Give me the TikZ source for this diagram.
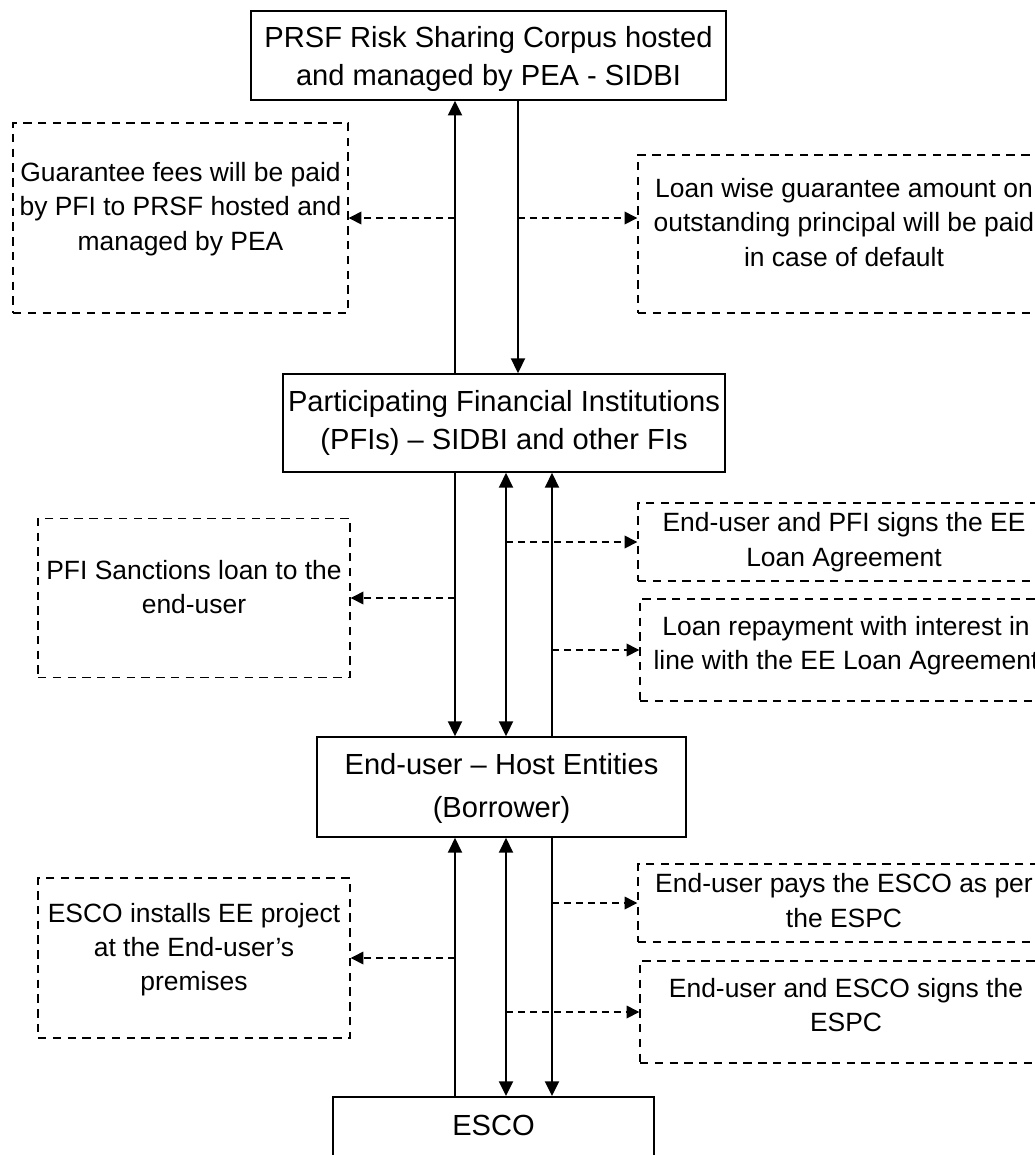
\documentclass[tikz,border=0pt]{standalone}
\usepackage{fontspec}
\setmainfont{Liberation Sans}
\usetikzlibrary{arrows.meta}
\setlength{\tabcolsep}{0pt}

\begin{document}
\begin{tikzpicture}[x=0.25mm, y=-0.25mm,
    box/.style={draw, rectangle, line width=1.2pt, fill=white, inner sep=2pt, font=\fontsize{20.7}{27}\selectfont},
    notebox/.style={draw, rectangle, dash pattern=on 6pt off 4.5pt, line width=1pt, inner sep=2pt, font=\fontsize{18.8}{24.5}\selectfont},
    flow/.style={line width=1.2pt, -{Triangle[length=10.5pt, width=10pt]}},
    flows/.style={line width=1.2pt, {Triangle[length=10.5pt, width=10pt]}-{Triangle[length=10.5pt, width=10pt]}},
    noteflow/.style={line width=1pt, dash pattern=on 5pt off 3.5pt, -{Triangle[length=9pt, width=9pt]}}]

        \useasboundingbox (0,0) rectangle (1035,1155);
        \clip (0,0) rectangle (1035,1155);

        % Lanes of the vertical arrows
        \coordinate (laneA) at (455,0);
        \coordinate (laneB) at (506,0);
        \coordinate (laneC) at (552,0);
        \coordinate (laneT) at (518,0);

        % Main chain
        \node[box, minimum width=118.75mm, minimum height=21.75mm] (corpus) at (488.5,55.5) {
            \begin{tabular}{c}
                \rule{0pt}{24pt}PRSF Risk Sharing Corpus hosted \\
                and managed by PEA - SIDBI
            \end{tabular}
        };
        \node[box, minimum width=110.5mm, minimum height=24.5mm] (pfi) at (504,423) {
            \begin{tabular}{c}
                Participating Financial Institutions \\
                (PFIs) -- SIDBI and other FIs
            \end{tabular}
        };
        \node[box, minimum width=92.25mm, minimum height=25mm, font=\fontsize{20.7}{30.5}\selectfont] (enduser) at (501.5,787) {
            \begin{tabular}{c}
                End-user -- Host Entities \\
                (Borrower)
            \end{tabular}
        };
        \node[box, anchor=north, minimum width=80.25mm, text height=25.5pt, text depth=40pt] (esco) at (493.5,1096) {ESCO};

        % Notes between corpus and PFI
        \node[notebox, minimum width=83.75mm, minimum height=47.5mm] (guar) at (180.5,218) {
            \begin{tabular}{c}
                Guarantee fees will be paid \\
                by PFI to PRSF hosted and \\
                managed by PEA \\[13pt]
            \end{tabular}
        };
        \node[notebox, minimum width=103mm, minimum height=39.5mm] (loss) at (844,234) {
            \begin{tabular}{c}
                Loan wise guarantee amount on \\
                outstanding principal will be paid \\
                in case of default \\[13pt]
            \end{tabular}
        };

        % Notes between PFI and end-user
        \node[notebox, minimum width=78mm, minimum height=39.75mm] (sanction) at (194,598) {
            \begin{tabular}{c}
                PFI Sanctions loan to the \\
                end-user \\[12pt]
            \end{tabular}
        };
        \node[notebox, minimum width=103mm, minimum height=19.5mm] (signpfi) at (844,542) {
            \begin{tabular}{c}
                End-user and PFI signs the EE \\
                Loan Agreement
            \end{tabular}
        };
        \node[notebox, minimum width=103mm, minimum height=25.5mm] (repay) at (846,650) {
            \begin{tabular}{c}
                Loan repayment with interest in \\
                line with the EE Loan Agreement \\[6pt]
            \end{tabular}
        };

        % Notes between end-user and ESCO
        \node[notebox, minimum width=78mm, minimum height=40mm] (install) at (194,958) {
            \begin{tabular}{c}
                ESCO installs EE project \\
                at the End-user's \\
                premises \\[12pt]
            \end{tabular}
        };
        \node[notebox, minimum width=103mm, minimum height=19.5mm] (pays) at (844,903) {
            \begin{tabular}{c}
                End-user pays the ESCO as per \\
                the ESPC
            \end{tabular}
        };
        \node[notebox, minimum width=103mm, minimum height=25.5mm] (signesco) at (846,1012) {
            \begin{tabular}{c}
                End-user and ESCO signs the \\
                ESPC \\[6pt]
            \end{tabular}
        };

        % Arrows between the main boxes
        \draw[flow] (pfi.north -| laneA) -- (corpus.south -| laneA);
        \draw[flow] (corpus.south -| laneT) -- (pfi.north -| laneT);
        \draw[flow] (pfi.south -| laneA) -- (enduser.north -| laneA);
        \draw[flows] (pfi.south -| laneB) -- (enduser.north -| laneB);
        \draw[flow] (enduser.north -| laneC) -- (pfi.south -| laneC);
        \draw[flow] (esco.north -| laneA) -- (enduser.south -| laneA);
        \draw[flows] (enduser.south -| laneB) -- (esco.north -| laneB);
        \draw[flow] (enduser.south -| laneC) -- (esco.north -| laneC);

        % Dashed arrows to the notes
        \draw[noteflow] (laneA |- guar.east) -- (guar.east);
        \draw[noteflow] (laneT |- guar.east) -- (loss.west |- guar.east);
        \draw[noteflow] (laneB |- signpfi.west) -- (signpfi.west);
        \draw[noteflow] (laneA |- sanction.east) -- (sanction.east);
        \draw[noteflow] (laneC |- repay.west) -- (repay.west);
        \draw[noteflow] (laneC |- pays.west) -- (pays.west);
        \draw[noteflow] (laneA |- install.east) -- (install.east);
        \draw[noteflow] (laneB |- signesco.west) -- (signesco.west);
    \end{tikzpicture}
\end{document}
